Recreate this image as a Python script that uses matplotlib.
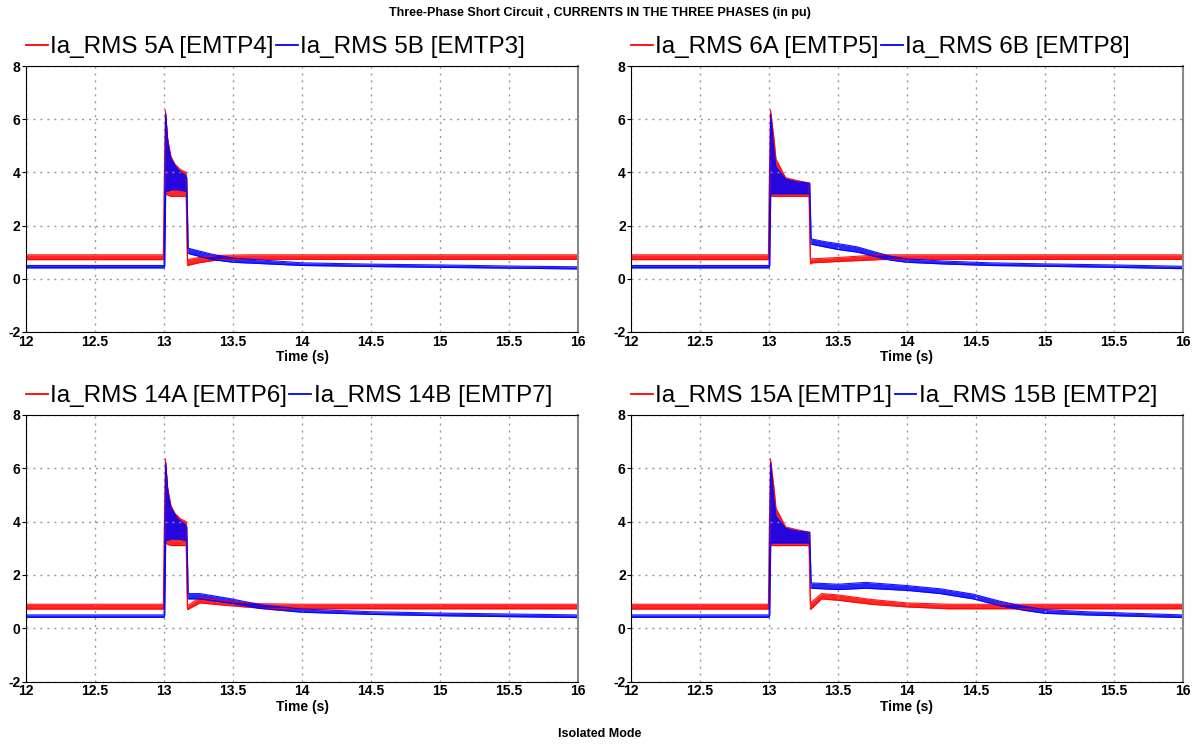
import matplotlib
matplotlib.use("Agg")
import matplotlib.pyplot as plt

plt.rcParams['font.family'] = ['Liberation Sans', 'DejaVu Sans']

# ---- data (upper / lower envelope of the RMS ripple) ----
# panel 5A / 5B
t_5a = [12.0, 12.995, 13.0, 13.01, 13.025, 13.05, 13.08, 13.12, 13.16, 13.17, 13.25, 13.4, 13.6, 14.0, 15.0, 16.0]
hi_5a = [0.9, 0.9, 3.2, 6.35, 5.3, 4.6, 4.3, 4.1, 4.0, 0.72, 0.8, 0.88, 0.9, 0.9, 0.9, 0.9]
lo_5a = [0.72, 0.72, 0.8, 3.2, 3.15, 3.1, 3.1, 3.1, 3.1, 0.5, 0.6, 0.72, 0.73, 0.73, 0.73, 0.73]
t_5b = [12.0, 13.0, 13.005, 13.012, 13.03, 13.05, 13.1, 13.15, 13.165, 13.175, 13.25, 13.35, 13.5, 14.0, 14.5, 15.0, 15.5, 16.0]
hi_5b = [0.5, 0.5, 3.3, 6.2, 5.0, 4.5, 4.1, 3.9, 3.8, 1.15, 1.05, 0.92, 0.78, 0.6, 0.55, 0.52, 0.48, 0.45]
lo_5b = [0.41, 0.41, 0.5, 3.3, 3.3, 3.35, 3.35, 3.3, 3.3, 0.95, 0.85, 0.72, 0.62, 0.5, 0.46, 0.43, 0.4, 0.37]

# panel 6A / 6B
t_6a = [12.0, 12.995, 13.0, 13.01, 13.035, 13.05, 13.12, 13.2, 13.29, 13.3, 13.31, 13.5, 13.8, 14.0, 16.0]
hi_6a = [0.9, 0.9, 3.2, 6.35, 5.3, 4.5, 3.8, 3.7, 3.6, 0.75, 0.75, 0.8, 0.9, 0.9, 0.9]
lo_6a = [0.72, 0.72, 0.8, 3.1, 3.1, 3.1, 3.1, 3.1, 3.1, 0.55, 0.6, 0.65, 0.72, 0.73, 0.73]
t_6b = [12.0, 13.0, 13.005, 13.012, 13.03, 13.05, 13.12, 13.2, 13.295, 13.305, 13.4, 13.5, 13.64, 13.76, 13.88, 14.0, 14.25, 14.6, 15.0, 15.5, 16.0]
hi_6b = [0.5, 0.5, 3.3, 6.2, 5.0, 4.2, 3.75, 3.65, 3.6, 1.5, 1.4, 1.32, 1.2, 1.02, 0.85, 0.75, 0.67, 0.6, 0.56, 0.52, 0.47]
lo_6b = [0.41, 0.41, 0.5, 3.2, 3.2, 3.2, 3.2, 3.2, 3.2, 1.3, 1.2, 1.1, 1.0, 0.85, 0.7, 0.62, 0.56, 0.5, 0.47, 0.43, 0.38]

# panel 14A / 14B
t_14a = [12.0, 12.995, 13.0, 13.01, 13.025, 13.05, 13.08, 13.12, 13.16, 13.17, 13.26, 13.47, 13.7, 14.0, 16.0]
hi_14a = [0.9, 0.9, 3.2, 6.35, 5.3, 4.6, 4.3, 4.1, 4.0, 0.85, 1.15, 1.0, 0.92, 0.9, 0.9]
lo_14a = [0.72, 0.72, 0.8, 3.2, 3.15, 3.1, 3.1, 3.1, 3.1, 0.7, 0.95, 0.85, 0.75, 0.73, 0.73]
t_14b = [12.0, 13.0, 13.005, 13.012, 13.03, 13.05, 13.1, 13.15, 13.165, 13.175, 13.26, 13.47, 13.7, 14.0, 14.5, 15.0, 16.0]
hi_14b = [0.5, 0.5, 3.3, 6.2, 5.0, 4.5, 4.1, 3.9, 3.8, 1.3, 1.3, 1.12, 0.88, 0.72, 0.62, 0.57, 0.5]
lo_14b = [0.41, 0.41, 0.5, 3.3, 3.3, 3.35, 3.35, 3.3, 3.3, 1.1, 1.1, 0.95, 0.74, 0.6, 0.52, 0.47, 0.4]

# panel 15A / 15B
t_15a = [12.0, 12.995, 13.0, 13.01, 13.035, 13.05, 13.12, 13.2, 13.29, 13.3, 13.38, 13.5, 13.74, 14.0, 14.3, 16.0]
hi_15a = [0.9, 0.9, 3.2, 6.35, 5.3, 4.5, 3.8, 3.7, 3.6, 0.95, 1.3, 1.25, 1.08, 0.95, 0.9, 0.9]
lo_15a = [0.72, 0.72, 0.8, 3.1, 3.1, 3.1, 3.1, 3.1, 3.1, 0.7, 1.1, 1.05, 0.9, 0.8, 0.73, 0.73]
t_15b = [12.0, 13.0, 13.005, 13.012, 13.03, 13.05, 13.12, 13.2, 13.295, 13.305, 13.5, 13.7, 14.0, 14.24, 14.48, 14.67, 14.84, 15.0, 15.3, 16.0]
hi_15b = [0.5, 0.5, 3.3, 6.2, 5.0, 4.2, 3.75, 3.65, 3.6, 1.7, 1.65, 1.72, 1.6, 1.48, 1.28, 1.02, 0.83, 0.7, 0.62, 0.5]
lo_15b = [0.41, 0.41, 0.5, 3.2, 3.2, 3.2, 3.2, 3.2, 3.2, 1.5, 1.45, 1.5, 1.42, 1.3, 1.1, 0.85, 0.68, 0.56, 0.5, 0.4]

panels = [
    ("Ia_RMS 5A [EMTP4]", t_5a, hi_5a, lo_5a, "Ia_RMS 5B [EMTP3]", t_5b, hi_5b, lo_5b),
    ("Ia_RMS 6A [EMTP5]", t_6a, hi_6a, lo_6a, "Ia_RMS 6B [EMTP8]", t_6b, hi_6b, lo_6b),
    ("Ia_RMS 14A [EMTP6]", t_14a, hi_14a, lo_14a, "Ia_RMS 14B [EMTP7]", t_14b, hi_14b, lo_14b),
    ("Ia_RMS 15A [EMTP1]", t_15a, hi_15a, lo_15a, "Ia_RMS 15B [EMTP2]", t_15b, hi_15b, lo_15b),
]

xticks = [12, 12.5, 13, 13.5, 14, 14.5, 15, 15.5, 16]
xticklabels = ["12", "12.5", "13", "13.5", "14", "14.5", "15", "15.5", "16"]
yticks = [-2, 0, 2, 4, 6, 8]

fig = plt.figure(figsize=(12, 7.45), dpi=100)
boxes = [
    [0.0217, 0.5544, 0.46, 0.357],
    [0.526, 0.5544, 0.4596, 0.357],
    [0.0217, 0.0851, 0.46, 0.358],
    [0.526, 0.0851, 0.4596, 0.358],
]


def band(ax, t, hi, lo, col, alpha, label):
    # ripple band: fill between the envelopes + thin envelope lines
    ax.fill_between(t, lo, hi, color=col, alpha=alpha, lw=0)
    ax.plot(t, hi, color=col, lw=0.8, alpha=0.9)
    ax.plot(t, lo, color=col, lw=0.8, alpha=0.9)
    ax.plot([], [], color=col, lw=1.3, label=label)


for box, (na, ta, ha, la, nb, tb, hb, lb) in zip(boxes, panels):
    ax = fig.add_axes(box)
    band(ax, ta, ha, la, '#ff0000', 0.85, na)
    band(ax, tb, hb, lb, '#0000ff', 0.85, nb)
    ax.set_xlim(12, 16)
    ax.set_ylim(-2, 8)
    ax.set_xticks(xticks)
    ax.set_xticklabels(xticklabels, fontweight='bold', fontsize=10)
    ax.set_yticks(yticks)
    ax.set_yticklabels([str(v) for v in yticks], fontweight='bold', fontsize=10)
    ax.tick_params(axis='x', length=0, pad=2)
    ax.tick_params(axis='y', length=3, pad=1)
    ax.grid(True, color='#999999', linestyle=(0, (1.5, 3.5)), linewidth=1)
    ax.spines['right'].set_color('#888888')
    ax.spines['right'].set_linewidth(1.5)
    ax.set_xlabel("Time (s)", fontweight='bold', fontsize=10, labelpad=1)
    ax.legend(loc='lower left', bbox_to_anchor=(-0.005, 1.02), ncol=2, frameon=False,
              fontsize=17.5, handlelength=0.9, handletextpad=0.1, columnspacing=0.1,
              borderaxespad=0.0, borderpad=0.1)

fig.text(0.5, 0.983, "Three-Phase Short Circuit , CURRENTS IN THE THREE PHASES (in pu)",
         ha='center', va='center', fontsize=9, fontweight='bold')
fig.text(0.5, 0.015, "Isolated Mode", ha='center', va='center', fontsize=9, fontweight='bold')

fig.savefig("out.png", dpi=100)
